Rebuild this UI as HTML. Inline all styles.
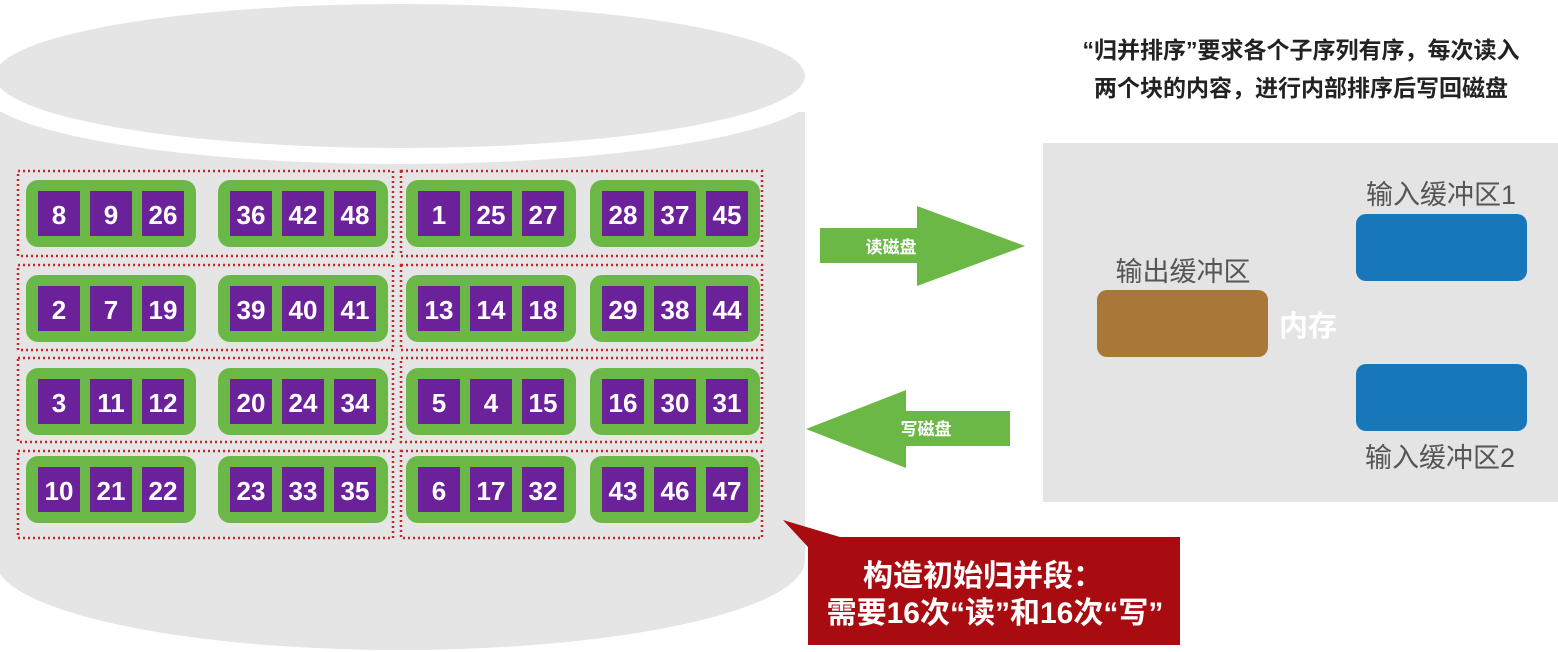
<!DOCTYPE html>
<html><head><meta charset="utf-8"><style>
body{margin:0;background:#fff;}
svg{display:block;font-family:"Liberation Sans","Noto Sans CJK SC",sans-serif;}
.n{fill:#fff;font-size:26px;font-weight:bold;text-anchor:middle;}
</style></head><body>
<svg width="1558" height="652" viewBox="0 0 1558 652">
<defs>
<g id="grp"><rect x="0" y="0" width="170" height="67" rx="12" fill="#6cb847"/>
<rect x="12" y="11" width="42" height="45" fill="#6a219a"/><rect x="64" y="11" width="42" height="45" fill="#6a219a"/><rect x="116" y="11" width="42" height="45" fill="#6a219a"/></g>
</defs>
<path d="M-5 112 L805 112 L805 560 A405 90 0 0 1 -5 560 Z" fill="#e5e5e5"/>
<ellipse cx="400" cy="88" rx="420" ry="76" fill="#fff"/>
<ellipse cx="400" cy="76" rx="405" ry="72" fill="#e5e5e5"/>
<g fill="none" stroke="#c8262c" stroke-width="2.5" stroke-dasharray="2 3">
<rect x="18" y="171" width="375" height="85"/><rect x="401" y="171" width="361" height="85"/>
<rect x="18" y="265" width="375" height="85"/><rect x="401" y="265" width="361" height="85"/>
<rect x="18" y="358" width="375" height="84"/><rect x="401" y="358" width="361" height="84"/>
<rect x="18" y="451" width="375" height="87"/><rect x="401" y="451" width="361" height="87"/>
</g>
<g>
<use href="#grp" x="26" y="180"/><use href="#grp" x="218" y="180"/><use href="#grp" x="406" y="180"/><use href="#grp" x="590" y="180"/>
<use href="#grp" x="26" y="275"/><use href="#grp" x="218" y="275"/><use href="#grp" x="406" y="275"/><use href="#grp" x="590" y="275"/>
<use href="#grp" x="26" y="368"/><use href="#grp" x="218" y="368"/><use href="#grp" x="406" y="368"/><use href="#grp" x="590" y="368"/>
<use href="#grp" x="26" y="456"/><use href="#grp" x="218" y="456"/><use href="#grp" x="406" y="456"/><use href="#grp" x="590" y="456"/>
</g>
<g class="n">
<text x="59" y="224">8</text><text x="111" y="224">9</text><text x="163" y="224">26</text>
<text x="251" y="224">36</text><text x="303" y="224">42</text><text x="355" y="224">48</text>
<text x="439" y="224">1</text><text x="491" y="224">25</text><text x="543" y="224">27</text>
<text x="623" y="224">28</text><text x="675" y="224">37</text><text x="727" y="224">45</text>

<text x="59" y="319">2</text><text x="111" y="319">7</text><text x="163" y="319">19</text>
<text x="251" y="319">39</text><text x="303" y="319">40</text><text x="355" y="319">41</text>
<text x="439" y="319">13</text><text x="491" y="319">14</text><text x="543" y="319">18</text>
<text x="623" y="319">29</text><text x="675" y="319">38</text><text x="727" y="319">44</text>

<text x="59" y="412">3</text><text x="111" y="412">11</text><text x="163" y="412">12</text>
<text x="251" y="412">20</text><text x="303" y="412">24</text><text x="355" y="412">34</text>
<text x="439" y="412">5</text><text x="491" y="412">4</text><text x="543" y="412">15</text>
<text x="623" y="412">16</text><text x="675" y="412">30</text><text x="727" y="412">31</text>

<text x="59" y="500">10</text><text x="111" y="500">21</text><text x="163" y="500">22</text>
<text x="251" y="500">23</text><text x="303" y="500">33</text><text x="355" y="500">35</text>
<text x="439" y="500">6</text><text x="491" y="500">17</text><text x="543" y="500">32</text>
<text x="623" y="500">43</text><text x="675" y="500">46</text><text x="727" y="500">47</text>
</g>
<polygon points="820,228 917,228 917,206 1025,246 917,286 917,263 820,263" fill="#6cb847"/>
<text x="891" y="253" fill="#fff" font-size="17" font-weight="bold" text-anchor="middle">读磁盘</text>
<polygon points="1010,411 906,411 906,390 806,429 906,468 906,446 1010,446" fill="#6cb847"/>
<text x="926" y="435" fill="#fff" font-size="17" font-weight="bold" text-anchor="middle">写磁盘</text>
<rect x="1043" y="143" width="515" height="359" fill="#e4e4e4"/>
<rect x="1097" y="290" width="171" height="67" rx="10" fill="#a97838"/>
<rect x="1356" y="214" width="171" height="67" rx="10" fill="#1877b9"/>
<rect x="1356" y="364" width="171" height="67" rx="10" fill="#1877b9"/>
<g fill="#555" font-size="27">
<text x="1183" y="281" text-anchor="middle">输出缓冲区</text>
<text x="1441" y="204" text-anchor="middle">输入缓冲区1</text>
<text x="1440" y="467" text-anchor="middle">输入缓冲区2</text>
</g>
<text x="1279" y="336" fill="#fff" font-size="29" font-weight="bold">内存</text>
<g fill="#222" font-size="23" font-weight="bold" text-anchor="middle">
<text x="1301" y="58">“归并排序”要求各个子序列有序，每次读入</text>
<text x="1301" y="96">两个块的内容，进行内部排序后写回磁盘</text>
</g>
<polygon points="783,520 850,540 820,560" fill="#a80c10"/>
<rect x="808" y="537" width="372" height="108" fill="#a80c10"/>
<g fill="#fff" font-size="30" font-weight="bold" text-anchor="middle">
<text x="983" y="586">构造初始归并段：</text>
<text x="995" y="623">需要16次“读”和16次“写”</text>
</g>
</svg>
</body></html>
